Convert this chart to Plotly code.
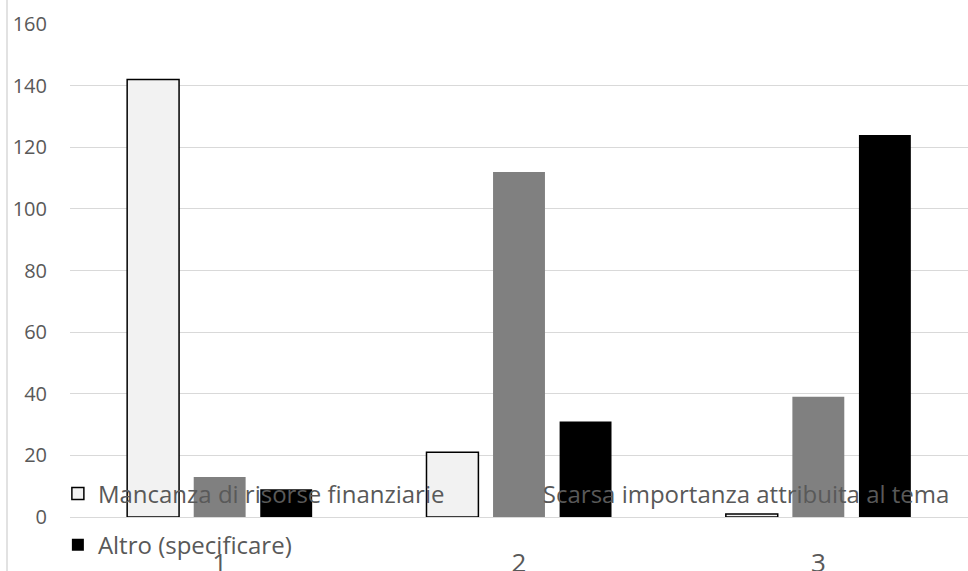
import plotly.graph_objects as go

categories = ["1", "2", "3"]
series_names = ["Mancanza di risorse finanziarie", "Scarsa importanza attribuita al tema", "Altro (specificare)"]
mancanza = [142, 21, 1]
scarsa = [13, 112, 39]
altro = [9, 31, 124]
y_ticks = [0, 20, 40, 60, 80, 100, 120, 140, 160]

FONT = "Open Sans"
TXT = "#595959"

fig = go.Figure()
fig.add_trace(go.Bar(x=categories, y=mancanza, name=series_names[0],
                     marker=dict(color="#f2f2f2", line=dict(color="#000000", width=1.5)),
                     legend="legend"))
fig.add_trace(go.Bar(x=categories, y=scarsa, name=series_names[1],
                     marker=dict(color="#808080", line=dict(color="#808080", width=0)),
                     legend="legend2"))
fig.add_trace(go.Bar(x=categories, y=altro, name=series_names[2],
                     marker=dict(color="#000000", line=dict(color="#000000", width=0)),
                     legend="legend3"))

leg_common = dict(orientation="h", xanchor="left", yanchor="middle",
                  bgcolor="rgba(0,0,0,0)", font=dict(size=24, color=TXT, family=FONT))

fig.update_layout(
    width=968, height=571,
    margin=dict(l=70, r=0, t=24, b=54, autoexpand=False),
    paper_bgcolor="white", plot_bgcolor="white",
    barmode="group", bargap=0.333, bargroupgap=0.22,
    font=dict(family=FONT, color=TXT, size=20),
    legend=dict(x=-0.0135, y=0.047, **leg_common),
    legend2=dict(x=0.482, y=0.047, **leg_common),
    legend3=dict(x=-0.0135, y=-0.057, **leg_common),
    showlegend=True,
)
fig.update_yaxes(range=[0, 160], tickvals=y_ticks, showgrid=True, gridcolor="#d9d9d9",
                 gridwidth=1, zeroline=False, showline=False, automargin=False,
                 ticklabelstandoff=22, tickfont=dict(size=20, color=TXT))
fig.update_xaxes(type="category", showgrid=False, showline=True, linecolor="#d9d9d9",
                 linewidth=1, ticks="", ticklabelstandoff=23, automargin=False,
                 tickfont=dict(size=26, color=TXT))

fig.add_shape(type="line", xref="paper", yref="paper",
              x0=-63/898, x1=-63/898, y0=-54/493, y1=1+24/493,
              line=dict(color="#d9d9d9", width=1.5))

fig.write_html("out.html", config={"displayModeBar": False},
               post_script="document.body.style.margin='0px';document.body.style.overflow='hidden';")
